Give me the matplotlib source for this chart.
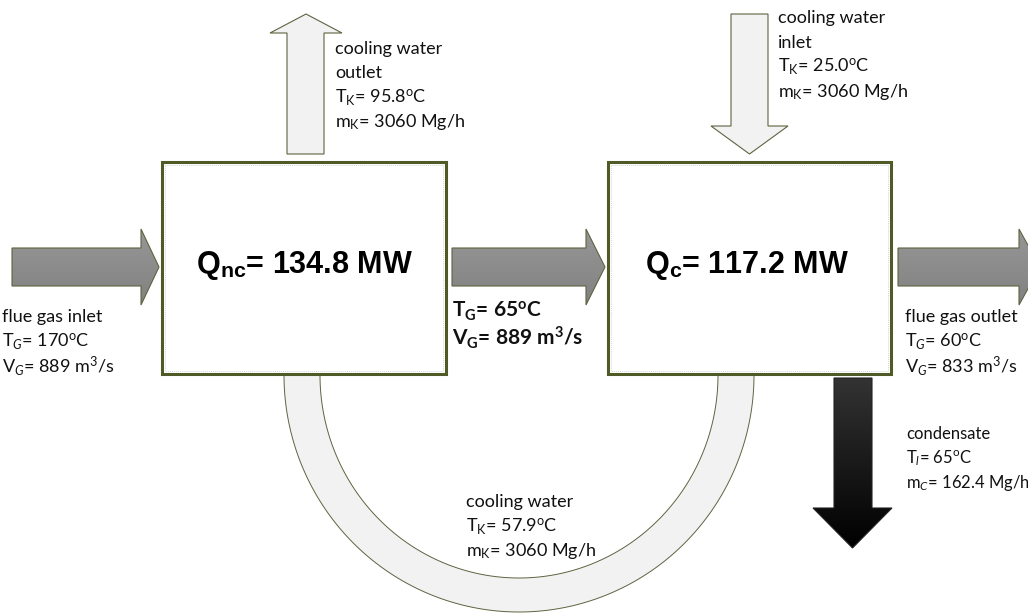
import numpy as np
import matplotlib.pyplot as plt
from matplotlib.patches import Polygon, Rectangle
from matplotlib.colors import LinearSegmentedColormap

plt.rcParams['font.family'] = ['Lato', 'DejaVu Sans']
plt.rcParams['mathtext.fontset'] = 'custom'
plt.rcParams['mathtext.rm'] = 'Lato'
plt.rcParams['mathtext.it'] = 'Lato:italic'
plt.rcParams['mathtext.bf'] = 'Lato:bold'

# values shown in the diagram
q_noncond = 134.8   # MW
q_cond = 117.2      # MW
gas_in = ["flue gas inlet", r"T$_{\mathit{G}}$= 170$^{\mathrm{o}}$C", r"V$_{\mathit{G}}$= 889 m$^{3}$/s"]
gas_mid = [r"$\mathbf{T}_{\mathbf{G}}$= 65$^{\mathbf{o}}$C", r"$\mathbf{V}_{\mathbf{G}}$= 889 m$^{\mathbf{3}}$/s"]
gas_out = ["flue gas outlet", r"T$_{\mathit{G}}$= 60$^{\mathrm{o}}$C", r"V$_{\mathit{G}}$= 833 m$^{3}$/s"]
cw_outlet = ["cooling water", "outlet", r"T$_{\mathrm{K}}$= 95.8$^{\mathrm{o}}$C", r"m$_{\mathrm{K}}$= 3060 Mg/h"]
cw_inlet = ["cooling water", "inlet", r"T$_{\mathrm{K}}$= 25.0$^{\mathrm{o}}$C", r"m$_{\mathrm{K}}$= 3060 Mg/h"]
cw_loop = ["cooling water", r"T$_{\mathrm{K}}$= 57.9$^{\mathrm{o}}$C", r"m$_{\mathrm{K}}$= 3060 Mg/h"]
condensate = ["condensate", r"T$_{\mathit{l}}$= 65$^{\mathrm{o}}$C", r"m$_{\mathit{C}}$= 162.4 Mg/h"]

EDGE = "#4f5a26"
LIGHT = "#f2f2f2"


def arrow_pts(direction, x0, x1, y0, y1, hx0, hx1, tip):
    # body box x0..x1, y0..y1 ; head spans hx0..hx1 across the flow, tip at 'tip'
    if direction == "right":
        return [(x0, y0), (x1, y0), (x1, hx0), (tip, (hx0 + hx1) / 2), (x1, hx1), (x1, y1), (x0, y1)]
    if direction == "up":
        return [(x0, y1), (x0, y0), (hx0, y0), ((hx0 + hx1) / 2, tip), (hx1, y0), (x1, y0), (x1, y1)]
    # down
    return [(x0, y0), (x0, y1), (hx0, y1), ((hx0 + hx1) / 2, tip), (hx1, y1), (x1, y1), (x1, y0)]


def gradient_arrow(ax, pts, c_top, c_bot, edge):
    poly = Polygon(pts, closed=True, facecolor="none", edgecolor=edge, lw=0.8, zorder=3)
    ax.add_patch(poly)
    xs = [p[0] for p in pts]
    ys = [p[1] for p in pts]
    cmap = LinearSegmentedColormap.from_list("g", [c_top, c_bot])
    grad = np.linspace(0, 1, 256).reshape(-1, 1)
    im = ax.imshow(grad, cmap=cmap, extent=(min(xs), max(xs), max(ys), min(ys)),
                   origin="upper", aspect="auto", zorder=2)
    clip = Polygon(pts, closed=True, transform=ax.transData)
    im.set_clip_path(clip)


def text_block(ax, x, y, lines, step=24.5, size=13, **kw):
    for i, s in enumerate(lines):
        ax.text(x, y + i * step, s, ha="left", va="center", fontsize=size, color="#111111", **kw)


fig = plt.figure(figsize=(10.28, 6.13), dpi=100)
ax = fig.add_axes([0, 0, 1, 1])
ax.set_xlim(0, 1028)
ax.set_ylim(613, 0)
ax.axis("off")

# half ring of the cooling water loop
t = np.linspace(0, np.pi, 200)
cx, cy = 519, 375
outer = np.column_stack([cx + 235 * np.cos(t), cy + 237 * np.sin(t)])
inner = np.column_stack([cx + 199 * np.cos(t[::-1]), cy + 203 * np.sin(t[::-1])])
ax.add_patch(Polygon(np.vstack([outer, inner]), closed=True, facecolor=LIGHT,
                     edgecolor="#5f6340", lw=0.7, zorder=1))

# heat exchanger boxes
for (bx0, bx1) in [(162, 446), (608, 891)]:
    ax.add_patch(Rectangle((bx0, 162), bx1 - bx0, 212, facecolor="white",
                           edgecolor=EDGE, lw=2.2, zorder=4))
    ax.add_patch(Rectangle((bx0 + 3, 165), bx1 - bx0 - 6, 206, facecolor="none",
                           edgecolor="#d6d6d6", lw=0.7, ls=(0, (1, 1)), zorder=4))

# flue gas arrows
for (x0, x1, tip) in [(12, 141, 159), (452, 586, 605), (898, 1019, 1040)]:
    gradient_arrow(ax, arrow_pts("right", x0, x1, 248, 286, 229, 305, tip),
                   "#979797", "#818181", "#5f6340")

# cooling water in / out
ax.add_patch(Polygon(arrow_pts("up", 287, 324, 33, 154, 270, 342, 14), closed=True,
                     facecolor=LIGHT, edgecolor="#5f6340", lw=0.8, zorder=3))
ax.add_patch(Polygon(arrow_pts("down", 731, 768, 14, 126, 711, 788, 154), closed=True,
                     facecolor=LIGHT, edgecolor="#5f6340", lw=0.8, zorder=3))

# condensate
gradient_arrow(ax, arrow_pts("down", 834, 872, 378, 508, 813, 892, 548),
               "#333333", "#000000", "#222222")

# heat duties
ax.text(304, 266, r"Q$_{\mathregular{nc}}$= %.1f MW" % q_noncond, ha="center", va="center",
        fontsize=22, fontweight="bold", family="Liberation Sans", zorder=5)
ax.text(747, 266, r"Q$_{\mathregular{c}}$= %.1f MW" % q_cond, ha="center", va="center",
        fontsize=22, fontweight="bold", family="Liberation Sans", zorder=5)

text_block(ax, 2, 317, gas_in)
text_block(ax, 452, 311, gas_mid, step=27, size=15, fontweight="bold")
text_block(ax, 905, 317, gas_out)
text_block(ax, 335, 49, cw_outlet)
text_block(ax, 778, 18, cw_inlet)
text_block(ax, 466, 502, cw_loop)
text_block(ax, 906, 434, condensate, size=12)

fig.savefig("out.png", dpi=100)
